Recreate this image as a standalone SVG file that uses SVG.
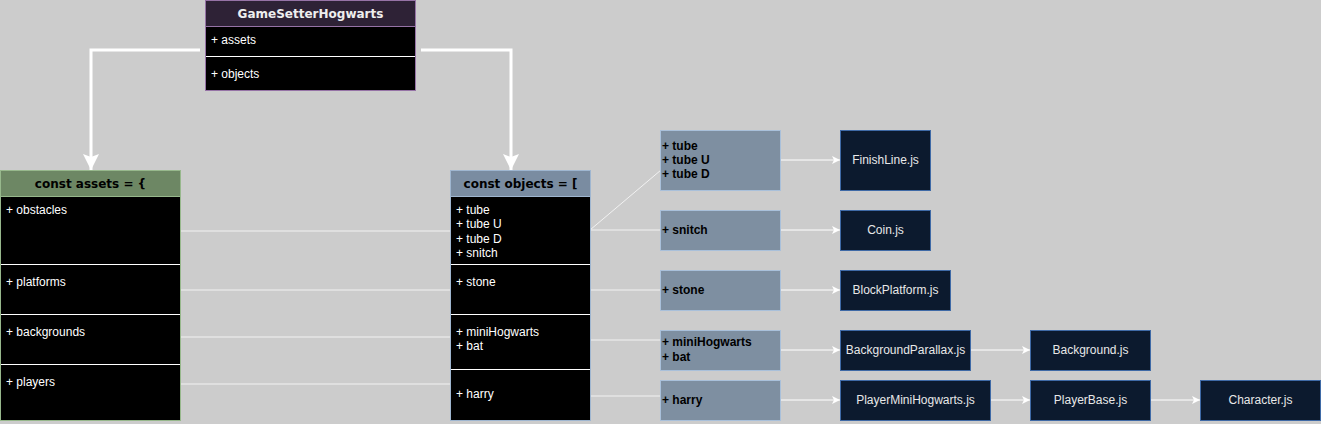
<svg xmlns="http://www.w3.org/2000/svg" width="1321" height="424" viewBox="0 0 1321 424">
<style>
text{font-family:"Liberation Sans",Arial,sans-serif}
.hd{font-family:"DejaVu Sans",Verdana,sans-serif;font-size:12px;font-weight:bold;text-anchor:middle}
.row{font-size:12px;fill:#ffffff}
.body{fill:#000000}
.div{stroke:#ffffff;stroke-width:1}
.grey{fill:#7e8fa1;stroke:#a9c0da;stroke-width:1}
.gt{font-size:12px;font-weight:bold;fill:#000000}
.js{fill:#0c1a2e;stroke:#3f6aa6;stroke-width:1}
.jt{font-size:12px;fill:#e8e8e8;text-anchor:middle}
.thin{stroke:#f2f2f2;stroke-width:1;fill:none}
.arr{stroke:#ffffff;stroke-width:1;fill:none;marker-end:url(#ah)}
.big{stroke:#ffffff;stroke-width:3;fill:none;marker-end:url(#bh)}
</style>
<defs>
<marker id="ah" markerWidth="10" markerHeight="10" refX="8" refY="4" orient="auto" markerUnits="userSpaceOnUse">
<path d="M0,0 L8,4 L0,8 L2,4 Z" fill="#ffffff"/>
</marker>
<marker id="bh" markerWidth="16" markerHeight="18" refX="16" refY="8" orient="auto" markerUnits="userSpaceOnUse">
<path d="M0,0 L16,8 L0,16 L3,8 Z" fill="#ffffff"/>
</marker>
</defs>
<rect width="1321" height="424" fill="#cccccc"/>

<g id="connectors">
<polyline class="big" points="200,50 91,50 91,170"/>
<polyline class="big" points="421,50 511,50 511,170"/>
<line class="thin" x1="180" y1="231" x2="451" y2="231"/>
<line class="thin" x1="180" y1="290" x2="451" y2="290"/>
<line class="thin" x1="180" y1="337" x2="451" y2="337"/>
<line class="thin" x1="180" y1="384" x2="451" y2="384"/>
<line class="thin" x1="590" y1="230" x2="661" y2="170"/>
<line class="thin" x1="590" y1="230" x2="661" y2="230"/>
<line class="thin" x1="590" y1="290" x2="661" y2="290"/>
<line class="thin" x1="590" y1="340" x2="661" y2="340"/>
<line class="thin" x1="590" y1="396" x2="661" y2="396"/>
<line class="arr" x1="780" y1="160" x2="840" y2="160"/>
<line class="arr" x1="780" y1="230" x2="840" y2="230"/>
<line class="arr" x1="780" y1="290" x2="840" y2="290"/>
<line class="arr" x1="780" y1="350" x2="840" y2="350"/>
<line class="arr" x1="970" y1="350" x2="1030" y2="350"/>
<line class="arr" x1="780" y1="400" x2="840" y2="400"/>
<line class="arr" x1="990" y1="400" x2="1030" y2="400"/>
<line class="arr" x1="1150" y1="400" x2="1200" y2="400"/>
</g>

<g id="GameSetterHogwarts">
<rect x="205.5" y="0.5" width="210" height="90" class="body" stroke="#9673a6"/>
<rect x="205.5" y="0.5" width="210" height="26" fill="#2e2236" stroke="#9673a6"/>
<text class="hd" x="310.5" y="18" fill="#eeeeee">GameSetterHogwarts</text>
<text class="row" x="211" y="44">+ assets</text>
<line class="div" x1="206" y1="56.5" x2="415" y2="56.5"/>
<text class="row" x="211" y="78">+ objects</text>
</g>

<g id="assets">
<rect x="0.5" y="170.5" width="180" height="250" class="body" stroke="#97b88c"/>
<rect x="0.5" y="170.5" width="180" height="26" fill="#6d8764" stroke="#97b88c"/>
<text class="hd" x="90.5" y="188" fill="#000000">const assets = {</text>
<text class="row" x="6" y="214">+ obstacles</text>
<line class="div" x1="1" y1="264.5" x2="180" y2="264.5"/>
<text class="row" x="6" y="286">+ platforms</text>
<line class="div" x1="1" y1="314.5" x2="180" y2="314.5"/>
<text class="row" x="6" y="336">+ backgrounds</text>
<line class="div" x1="1" y1="364.5" x2="180" y2="364.5"/>
<text class="row" x="6" y="386">+ players</text>
</g>

<g id="objects">
<rect x="450.5" y="170.5" width="140" height="250" class="body" stroke="#9fb6d0"/>
<rect x="450.5" y="170.5" width="140" height="26" fill="#7a8ca1" stroke="#9fb6d0"/>
<text class="hd" x="520.5" y="188" fill="#000000">const objects = [</text>
<text class="row" x="456" y="214">+ tube</text>
<text class="row" x="456" y="228">+ tube U</text>
<text class="row" x="456" y="242.5">+ tube D</text>
<text class="row" x="456" y="257">+ snitch</text>
<line class="div" x1="451" y1="264.5" x2="590" y2="264.5"/>
<text class="row" x="456" y="286">+ stone</text>
<line class="div" x1="451" y1="314.5" x2="590" y2="314.5"/>
<text class="row" x="456" y="336">+ miniHogwarts</text>
<text class="row" x="456" y="350">+ bat</text>
<line class="div" x1="451" y1="369.5" x2="590" y2="369.5"/>
<text class="row" x="456" y="398">+ harry</text>
</g>

<g id="g-tube">
<rect class="grey" x="660.5" y="130.5" width="120" height="60"/>
<text class="gt" x="662" y="150">+ tube</text>
<text class="gt" x="662" y="164">+ tube U</text>
<text class="gt" x="662" y="178">+ tube D</text>
</g>
<g id="g-snitch">
<rect class="grey" x="660.5" y="210.5" width="120" height="40"/>
<text class="gt" x="662" y="234">+ snitch</text>
</g>
<g id="g-stone">
<rect class="grey" x="660.5" y="270.5" width="120" height="40"/>
<text class="gt" x="662" y="294">+ stone</text>
</g>
<g id="g-mini">
<rect class="grey" x="660.5" y="330.5" width="120" height="40"/>
<text class="gt" x="662" y="346">+ miniHogwarts</text>
<text class="gt" x="662" y="361">+ bat</text>
</g>
<g id="g-harry">
<rect class="grey" x="660.5" y="380.5" width="120" height="40"/>
<text class="gt" x="662" y="404">+ harry</text>
</g>

<g id="FinishLine">
<rect class="js" x="840.5" y="130.5" width="90" height="60"/>
<text class="jt" x="885.5" y="164">FinishLine.js</text>
</g>
<g id="Coin">
<rect class="js" x="840.5" y="210.5" width="90" height="40"/>
<text class="jt" x="885.5" y="234">Coin.js</text>
</g>
<g id="BlockPlatform">
<rect class="js" x="840.5" y="270.5" width="110" height="40"/>
<text class="jt" x="895.5" y="294">BlockPlatform.js</text>
</g>
<g id="BackgroundParallax">
<rect class="js" x="840.5" y="330.5" width="130" height="40"/>
<text class="jt" x="905.5" y="354">BackgroundParallax.js</text>
</g>
<g id="Background">
<rect class="js" x="1030.5" y="330.5" width="120" height="40"/>
<text class="jt" x="1090.5" y="354">Background.js</text>
</g>
<g id="PlayerMiniHogwarts">
<rect class="js" x="840.5" y="380.5" width="150" height="40"/>
<text class="jt" x="915.5" y="404">PlayerMiniHogwarts.js</text>
</g>
<g id="PlayerBase">
<rect class="js" x="1030.5" y="380.5" width="120" height="40"/>
<text class="jt" x="1090.5" y="404">PlayerBase.js</text>
</g>
<g id="Character">
<rect class="js" x="1200.5" y="380.5" width="120" height="40"/>
<text class="jt" x="1260.5" y="404">Character.js</text>
</g>
</svg>
